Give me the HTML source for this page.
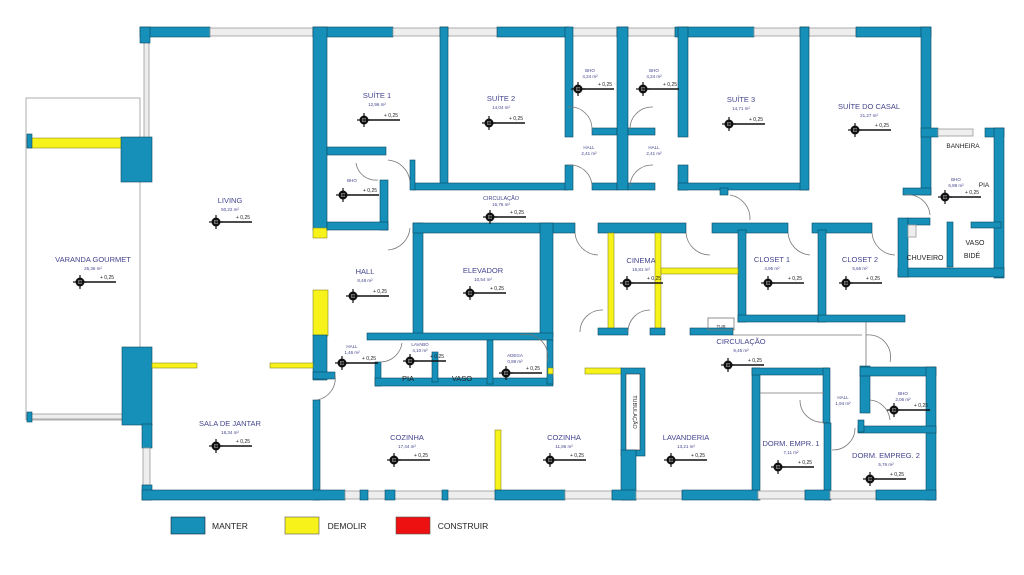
<!DOCTYPE html>
<html><head><meta charset="utf-8"><style>
html,body{margin:0;padding:0;background:#fff;}
svg{display:block;}
.w{fill:#1690b9;stroke:#0d4a63;stroke-width:0.6}
.y{fill:#f7f21a;stroke:#8a8a20;stroke-width:0.6}
.g{fill:#eee;stroke:#999;stroke-width:0.8}
.l{fill:none;stroke:#999;stroke-width:1.2}
.d{fill:none;stroke:#777;stroke-width:0.8}
text{font-family:"Liberation Sans",sans-serif;}
.r{fill:#45458f;font-size:7.5px;text-anchor:middle}
.a{fill:#333;font-size:5px;text-anchor:middle}
.s{fill:#45458f;font-size:4.5px;text-anchor:middle}
.k{fill:#222;font-size:7.5px;text-anchor:middle}
</style></head><body>
<svg width="1024" height="575" viewBox="0 0 1024 575" xmlns="http://www.w3.org/2000/svg">
<defs>
<g id="m"><circle cx="0" cy="0" r="4.5" fill="#111"/><circle cx="0" cy="0" r="2" fill="#fff"/><line x1="-7" y1="0" x2="7" y2="0" stroke="#111" stroke-width="1.2"/><line x1="0" y1="-7" x2="0" y2="7" stroke="#111" stroke-width="1.2"/><line x1="0" y1="0" x2="36" y2="0" stroke="#111" stroke-width="1.4"/><text x="20" y="-3" style="font-size:5px;fill:#222;font-family:'Liberation Sans'">+ 0,25</text></g>
</defs>
<!-- varanda outline -->
<rect x="26" y="98" width="114" height="322" class="g" style="fill:none"/>
<rect x="144" y="36" width="5" height="102" class="g"/>
<rect x="27" y="138" width="95" height="10" class="y"/>
<rect x="121" y="137" width="31" height="45" class="w"/>
<rect x="27" y="134" width="5" height="14" class="w"/>
<rect x="27" y="414" width="114" height="5" class="g"/>
<rect x="27" y="412" width="5" height="10" class="w"/>
<rect x="122" y="347" width="30" height="78" class="w"/>
<rect x="142" y="424" width="10" height="24" class="w"/>
<rect x="143" y="448" width="7" height="37" class="g"/>
<rect x="142" y="485" width="10" height="15" class="w"/>
<!-- top wall -->
<rect x="140" y="27" width="70" height="10" class="w"/>
<rect x="140" y="27" width="10" height="16" class="w"/>
<rect x="210" y="28" width="103" height="8" class="g"/>
<rect x="313" y="27" width="80" height="10" class="w"/>
<rect x="393" y="28" width="120" height="8" class="g"/>
<rect x="440" y="27" width="8" height="10" class="w"/>
<rect x="497" y="27" width="72" height="10" class="w"/>
<rect x="569" y="28" width="48" height="8" class="g"/>
<rect x="617" y="27" width="11" height="10" class="w"/>
<rect x="628" y="28" width="47" height="8" class="g"/>
<rect x="675" y="27" width="79" height="10" class="w"/>
<rect x="754" y="28" width="46" height="8" class="g"/>
<rect x="800" y="27" width="9" height="10" class="w"/>
<rect x="809" y="28" width="47" height="8" class="g"/>
<rect x="856" y="27" width="75" height="10" class="w"/>
<!-- right -->
<rect x="921" y="27" width="10" height="168" class="w"/>
<rect x="903" y="188" width="28" height="7" class="w"/>
<rect x="921" y="128" width="17" height="9" class="w"/>
<rect x="938" y="129" width="35" height="7" class="g"/>
<rect x="985" y="128" width="19" height="9" class="w"/>
<rect x="994" y="128" width="10" height="150" class="w"/>
<rect x="971" y="222" width="30" height="6" class="w"/>
<rect x="947" y="222" width="6" height="45" class="w"/>
<rect x="898" y="268" width="106" height="9" class="w"/>
<rect x="898" y="218" width="10" height="59" class="w"/>
<rect x="908" y="218" width="22" height="7" class="w"/>
<rect x="908" y="225" width="8" height="12" class="g"/>
<!-- suites -->
<rect x="313" y="27" width="14" height="203" class="w"/>
<rect x="313" y="228" width="14" height="10" class="y"/>
<rect x="327" y="147" width="59" height="8" class="w"/>
<rect x="380" y="180" width="8" height="50" class="w"/>
<rect x="327" y="222" width="61" height="8" class="w"/>
<rect x="440" y="27" width="8" height="158" class="w"/>
<rect x="413" y="183" width="154" height="7" class="w"/>
<rect x="410" y="160" width="5" height="30" class="w"/>
<rect x="565" y="27" width="8" height="110" class="w"/>
<rect x="565" y="165" width="8" height="25" class="w"/>
<rect x="592" y="128" width="25" height="7" class="w"/>
<rect x="592" y="183" width="25" height="7" class="w"/>
<rect x="617" y="27" width="11" height="163" class="w"/>
<rect x="628" y="128" width="27" height="7" class="w"/>
<rect x="628" y="183" width="27" height="7" class="w"/>
<rect x="678" y="27" width="10" height="110" class="w"/>
<rect x="678" y="165" width="10" height="25" class="w"/>
<rect x="678" y="183" width="130" height="7" class="w"/>
<rect x="800" y="27" width="9" height="163" class="w"/>
<rect x="720" y="188" width="8" height="7" class="w"/>
<!-- circulation lower -->
<rect x="413" y="223" width="10" height="114" class="w"/>
<rect x="413" y="223" width="162" height="10" class="w"/>
<rect x="540" y="223" width="13" height="114" class="w"/>
<rect x="598" y="223" width="88" height="10" class="w"/>
<rect x="712" y="223" width="76" height="10" class="w"/>
<rect x="812" y="223" width="60" height="10" class="w"/>
<rect x="738" y="230" width="8" height="92" class="w"/>
<rect x="738" y="315" width="82" height="7" class="w"/>
<rect x="818" y="230" width="8" height="92" class="w"/>
<rect x="818" y="315" width="87" height="7" class="w"/>
<!-- cinema -->
<rect x="608" y="233" width="6" height="97" class="y"/>
<rect x="655" y="233" width="6" height="97" class="y"/>
<rect x="661" y="268" width="77" height="6" class="y"/>
<rect x="598" y="328" width="30" height="7" class="w"/>
<rect x="650" y="328" width="15" height="7" class="w"/>
<rect x="690" y="328" width="43" height="7" class="w"/>
<rect x="708" y="318" width="26" height="12" fill="none" stroke="#777" stroke-width="0.8"/>
<text x="721" y="328" class="s" style="fill:#333">TUB</text>
<line x1="733" y1="335" x2="862" y2="335" class="d"/>
<line x1="866" y1="322" x2="866" y2="366" class="d"/>
<!-- hall / lavabo -->
<rect x="313" y="290" width="15" height="46" class="y"/>
<rect x="313" y="335" width="14" height="45" class="w"/>
<rect x="313" y="372" width="22" height="7" class="w"/>
<rect x="367" y="333" width="186" height="7" class="w"/>
<rect x="375" y="362" width="6" height="24" class="w"/>
<rect x="375" y="378" width="178" height="8" class="w"/>
<rect x="432" y="352" width="6" height="30" class="w"/>
<rect x="487" y="340" width="6" height="44" class="w"/>
<rect x="547" y="340" width="6" height="44" class="w"/>
<rect x="548" y="368" width="5" height="6" class="y"/>
<rect x="152" y="363" width="45" height="5" class="y"/>
<rect x="270" y="363" width="43" height="5" class="y"/>
<rect x="313" y="400" width="7" height="100" class="w"/>
<rect x="495" y="430" width="6" height="60" class="y"/>
<rect x="585" y="368" width="37" height="6" class="y"/>
<rect x="621" y="368" width="24" height="88" class="w"/>
<rect x="626" y="374" width="14" height="76" fill="#fff" stroke="#333" stroke-width="0.6"/>
<text x="633" y="412" class="s" style="fill:#333;font-size:5.5px" transform="rotate(90 633 412)">TUBULAÇÃO</text>
<rect x="621" y="450" width="15" height="50" class="w"/>
<!-- dorms -->
<rect x="752" y="368" width="8" height="132" class="w"/>
<rect x="752" y="368" width="77" height="7" class="w"/>
<rect x="823" y="368" width="7" height="55" class="w"/>
<rect x="824" y="423" width="7" height="77" class="w"/>
<line x1="760" y1="393" x2="824" y2="393" class="d"/>
<rect x="860" y="366" width="10" height="47" class="w"/>
<rect x="860" y="367" width="76" height="9" class="w"/>
<rect x="926" y="367" width="10" height="133" class="w"/>
<rect x="858" y="426" width="78" height="7" class="w"/>
<rect x="858" y="420" width="6" height="12" class="w"/>
<!-- bottom wall -->
<rect x="142" y="490" width="203" height="10" class="w"/>
<rect x="345" y="491" width="150" height="8" class="g"/>
<rect x="360" y="490" width="8" height="10" class="w"/>
<rect x="385" y="490" width="10" height="10" class="w"/>
<rect x="442" y="490" width="6" height="10" class="w"/>
<rect x="495" y="490" width="70" height="10" class="w"/>
<rect x="565" y="491" width="47" height="8" class="g"/>
<rect x="612" y="490" width="24" height="10" class="w"/>
<rect x="636" y="491" width="46" height="8" class="g"/>
<rect x="682" y="490" width="76" height="10" class="w"/>
<rect x="758" y="491" width="47" height="8" class="g"/>
<rect x="805" y="490" width="25" height="10" class="w"/>
<rect x="830" y="491" width="46" height="8" class="g"/>
<rect x="876" y="490" width="60" height="10" class="w"/>
<!-- doors -->
<path d="M388 160 A24 24 0 0 1 410 182" class="d"/>
<path d="M388 250 A24 24 0 0 0 410 228" class="d"/>
<path d="M356 163 A20 20 0 0 0 378 180" class="d"/>
<path d="M568 107 A22 22 0 0 1 592 130" class="d"/>
<path d="M653 107 A22 22 0 0 0 630 130" class="d"/>
<path d="M568 165 A22 22 0 0 1 592 186" class="d"/>
<path d="M653 165 A22 22 0 0 0 630 186" class="d"/>
<path d="M730 195 A24 24 0 0 1 750 220" class="d"/>
<path d="M575 233 A24 24 0 0 0 598 255" class="d"/>
<path d="M686 233 A24 24 0 0 0 710 255" class="d"/>
<path d="M788 233 A24 24 0 0 0 810 255" class="d"/>
<path d="M872 233 A24 24 0 0 0 895 255" class="d"/>
<path d="M905 195 A22 22 0 0 1 930 215" class="d"/>
<path d="M580 332 A22 22 0 0 1 603 310" class="d"/>
<path d="M628 332 A22 22 0 0 1 650 310" class="d"/>
<path d="M520 335 A22 22 0 0 1 547 362" class="d"/>
<path d="M335 375 A22 22 0 0 1 317 400" class="d"/>
<path d="M380 362 A22 22 0 0 0 402 343" class="d"/>
<path d="M866 335 A22 22 0 0 1 890 362" class="d"/>
<path d="M800 400 A22 22 0 0 0 825 422" class="d"/>
<path d="M870 400 A22 22 0 0 1 890 420" class="d"/>
<path d="M832 450 A22 22 0 0 0 855 428" class="d"/>
<!-- labels -->
<text x="230" y="203" class="r">LIVING</text><text x="230" y="211" class="s">50,22 m²</text><use href="#m" x="216" y="222"/>
<text x="93" y="262" class="r">VARANDA GOURMET</text><text x="93" y="270" class="s">25,36 m²</text><use href="#m" x="80" y="282"/>
<text x="377" y="98" class="r">SUÍTE 1</text><text x="377" y="106" class="s">12,96 m²</text><use href="#m" x="364" y="120"/>
<text x="352" y="182" class="s">BHO</text><use href="#m" x="343" y="195"/>
<text x="501" y="101" class="r">SUÍTE 2</text><text x="501" y="109" class="s">14,04 m²</text><use href="#m" x="489" y="123"/>
<text x="590" y="72" class="s">BHO</text><text x="590" y="78" class="s">4,24 m²</text><use href="#m" x="578" y="89"/>
<text x="654" y="72" class="s">BHO</text><text x="654" y="78" class="s">4,24 m²</text><use href="#m" x="643" y="89"/>
<text x="589" y="149" class="s">HALL</text><text x="589" y="155" class="s">2,41 m²</text>
<text x="654" y="149" class="s">HALL</text><text x="654" y="155" class="s">2,41 m²</text>
<text x="741" y="102" class="r">SUÍTE 3</text><text x="741" y="110" class="s">14,71 m²</text><use href="#m" x="729" y="124"/>
<text x="869" y="109" class="r">SUÍTE DO CASAL</text><text x="869" y="117" class="s">21,27 m²</text><use href="#m" x="855" y="130"/>
<text x="963" y="148" class="k" style="font-size:6.5px">BANHEIRA</text>
<text x="956" y="181" class="s">BHO</text><text x="956" y="187" class="s">6,88 m²</text><use href="#m" x="945" y="197"/>
<text x="984" y="187" class="k" style="font-size:6.5px">PIA</text>
<text x="975" y="245" class="k" style="font-size:7px">VASO</text><text x="972" y="258" class="k" style="font-size:7px">BIDÉ</text>
<text x="925" y="260" class="k" style="font-size:7px">CHUVEIRO</text>
<text x="501" y="200" class="s" style="font-size:5.5px">CIRCULAÇÃO</text><text x="501" y="206" class="s">16,76 m²</text><use href="#m" x="490" y="217"/>
<text x="483" y="273" class="r">ELEVADOR</text><text x="483" y="281" class="s">10,54 m²</text><use href="#m" x="470" y="293"/>
<text x="365" y="274" class="r">HALL</text><text x="365" y="282" class="s">8,48 m²</text><use href="#m" x="353" y="296"/>
<text x="352" y="348" class="s">HALL</text><text x="352" y="354" class="s">1,46 m²</text><use href="#m" x="342" y="363"/>
<text x="420" y="346" class="s">LAVABO</text><text x="420" y="352" class="s">4,10 m²</text><use href="#m" x="410" y="361"/>
<text x="408" y="381" class="k">PIA</text><text x="462" y="381" class="k">VASO</text>
<text x="515" y="357" class="s">ADEGA</text><text x="515" y="363" class="s">0,98 m²</text><use href="#m" x="506" y="373"/>
<text x="641" y="263" class="r">CINEMA</text><text x="641" y="271" class="s">15,81 m²</text><use href="#m" x="627" y="283"/>
<text x="772" y="262" class="r">CLOSET 1</text><text x="772" y="270" class="s">4,95 m²</text><use href="#m" x="768" y="283"/>
<text x="860" y="262" class="r">CLOSET 2</text><text x="860" y="270" class="s">5,66 m²</text><use href="#m" x="846" y="283"/>
<text x="741" y="344" class="r">CIRCULAÇÃO</text><text x="741" y="352" class="s">9,45 m²</text><use href="#m" x="728" y="365"/>
<text x="843" y="399" class="s">HALL</text><text x="843" y="405" class="s">1,94 m²</text>
<text x="903" y="395" class="s">BHO</text><text x="903" y="401" class="s">2,06 m²</text><use href="#m" x="894" y="410"/>
<text x="791" y="446" class="r">DORM. EMPR. 1</text><text x="791" y="454" class="s">7,11 m²</text><use href="#m" x="778" y="467"/>
<text x="886" y="458" class="r">DORM. EMPREG. 2</text><text x="886" y="466" class="s">5,76 m²</text><use href="#m" x="870" y="479"/>
<text x="230" y="426" class="r">SALA DE JANTAR</text><text x="230" y="434" class="s">18,34 m²</text><use href="#m" x="216" y="446"/>
<text x="407" y="440" class="r">COZINHA</text><text x="407" y="448" class="s">17,44 m²</text><use href="#m" x="394" y="460"/>
<text x="564" y="440" class="r">COZINHA</text><text x="564" y="448" class="s">11,86 m²</text><use href="#m" x="550" y="460"/>
<text x="686" y="440" class="r">LAVANDERIA</text><text x="686" y="448" class="s">13,21 m²</text><use href="#m" x="671" y="460"/>
<!-- legend -->
<rect x="171" y="517" width="34" height="17" class="w" style="stroke:#123"/>
<text x="230" y="529" class="k" style="font-size:8.5px">MANTER</text>
<rect x="285" y="517" width="34" height="17" class="y" style="stroke:#555"/>
<text x="347" y="529" class="k" style="font-size:8.5px">DEMOLIR</text>
<rect x="396" y="517" width="34" height="17" fill="#ee1111" stroke="#555" stroke-width="0.6"/>
<text x="463" y="529" class="k" style="font-size:8.5px">CONSTRUIR</text>
</svg>
</body></html>
